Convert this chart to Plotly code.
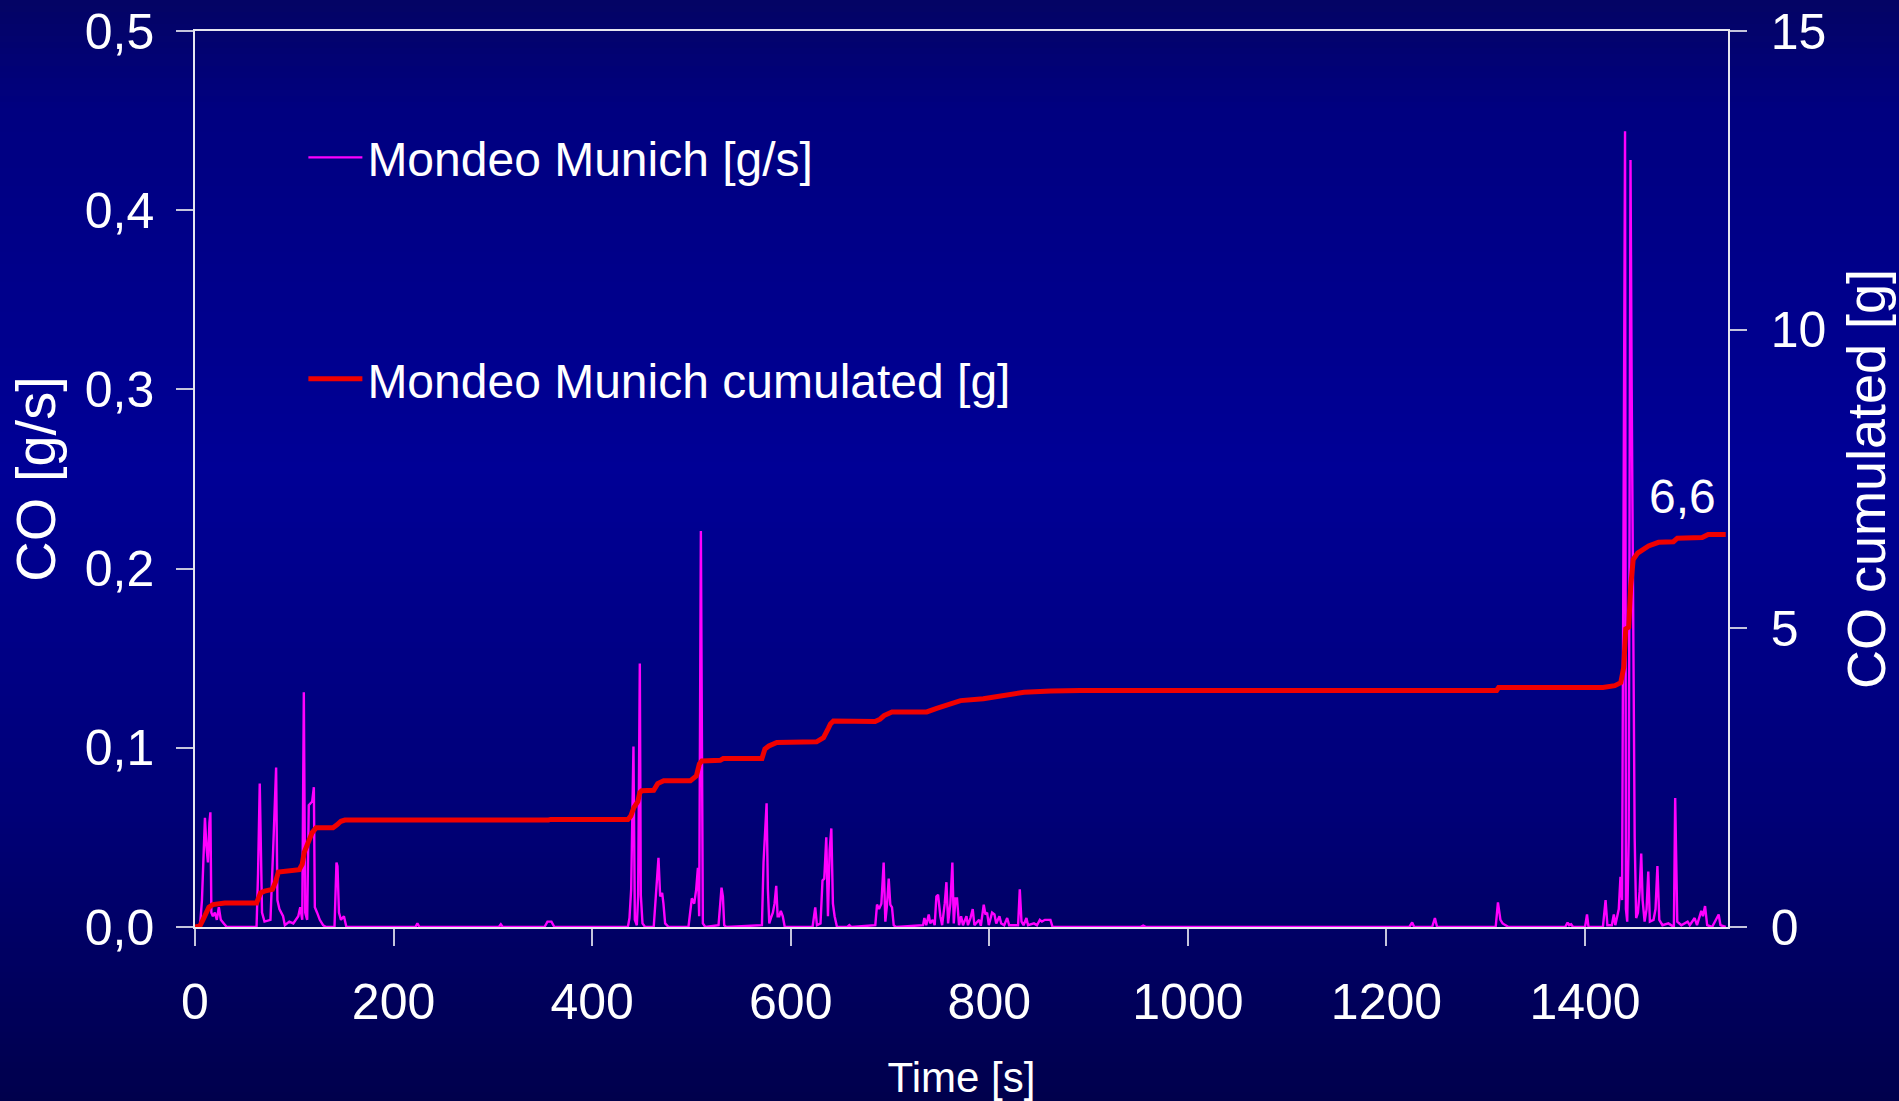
import plotly.graph_objects as go

# ---------------- data ----------------
time_rate = [0, 5, 7, 9, 10, 11.5, 13, 14.5, 15.5, 16.5, 18, 20, 22, 24, 26, 29, 32,
             62, 63.5, 65.2, 66.5, 67.5, 70, 76, 78.7, 80.5, 81.7, 83, 85, 88.7, 90.5, 95, 99,
             104, 106, 108, 109.6, 111, 113, 114.6, 116, 118, 119.7, 120.7, 123, 125.7, 129, 132,
             140.5, 142.5, 143.5, 145, 147, 150, 152.5,
             222, 224, 226, 306, 308, 310, 352, 355, 359, 362,
             436, 437.6, 439.3, 441.6, 443, 445, 446.3, 448, 449, 450.7, 453.4,
             462, 465, 466.8, 468.5, 470.5, 471.8, 473.5, 477,
             497, 500.4, 502.8, 504.8, 506.5, 507.8, 509.5, 511.5, 514,
             527.3, 529, 530.3, 531.7, 533, 535,
             571, 572.6, 575.7, 577, 578.4, 580, 582, 583.7, 585.4, 586.8, 588.4, 590, 592, 594,
             622, 624.7, 626.4, 630, 632, 633.8, 635.8, 637.5, 639.2, 640.9, 642.5, 644.2, 646.6,
             657, 659, 661,
             685.2, 686.9, 688.9, 691.3, 693.6, 695.3, 697, 698.7, 700.3, 702, 703.7, 706,
             733.3, 734.6, 736.5, 739, 740.5, 743, 745, 746.7, 748.4, 750.7, 752.5, 755.1, 756.8,
             758.5, 760.8, 762.8, 764.2, 765.9, 767.5, 769.5, 771.6, 773.5, 777, 778.5, 781, 783.3,
             785, 789.7, 791.5, 794.4, 796.1, 797.8, 799.5, 802.8, 805.2, 807, 810.2, 812, 815,
             818, 820, 829, 830.7, 832.4, 834.5, 837.4, 839, 845, 848, 850.9, 853, 856, 859,
             861.6, 863.7,
             952, 955, 958,
             1223, 1225.9, 1228, 1246, 1248.8, 1251,
             1310, 1312.3, 1314.8, 1317, 1320, 1323,
             1380, 1382.4, 1384, 1386, 1388, 1400, 1402, 1403.5,
             1418, 1420.7, 1422.5, 1427, 1429, 1430.5, 1434, 1435.7, 1437.3, 1439, 1440.3, 1441.2,
             1442.5, 1444, 1445.8, 1447, 1448.7, 1450, 1451.5, 1453.3, 1455, 1456.6, 1458, 1460,
             1462, 1463.7, 1465.3, 1469, 1471, 1472.9, 1474.8, 1478, 1484, 1489.5, 1490.8, 1492.9,
             1497, 1503.3, 1505.5, 1510.4, 1512.8, 1517.1, 1518.8, 1520.9, 1523, 1528, 1534.6,
             1536.4, 1541.7]
co_rate = [0, 0, 0.015, 0.055, 0.061, 0.045, 0.036, 0.058, 0.064, 0.008, 0.006, 0.008, 0.004, 0.011, 0.004, 0.002, 0,
           0, 0.03, 0.080, 0.03, 0.008, 0.003, 0.004, 0.043, 0.075, 0.089, 0.015, 0.010, 0.006, 0.001, 0.003, 0.002,
           0.006, 0.011, 0.004, 0.131, 0.008, 0.004, 0.068, 0.069, 0.070, 0.078, 0.011, 0.008, 0.004, 0.001, 0,
           0, 0.036, 0.034, 0.008, 0.004, 0.006, 0,
           0, 0.002, 0, 0, 0.0015, 0, 0, 0.003, 0.003, 0,
           0, 0.005, 0.021, 0.1007, 0.004, 0.001, 0.017, 0.147, 0.018, 0.002, 0,
           0, 0.025, 0.0386, 0.017, 0.019, 0.013, 0.002, 0,
           0, 0.016, 0.013, 0.021, 0.033, 0.006, 0.221, 0.002, 0,
           0.001, 0.013, 0.022, 0.017, 0.001, 0,
           0.001, 0.036, 0.069, 0.021, 0.002, 0.005, 0.008, 0.013, 0.023, 0.006, 0.006, 0.009, 0.006, 0,
           0, 0.011, 0.001, 0.002, 0.026, 0.027, 0.050, 0.006, 0.043, 0.055, 0.013, 0.006, 0,
           0, 0.001, 0,
           0.001, 0.0125, 0.010, 0.013, 0.036, 0.003, 0.0125, 0.027, 0.0125, 0.011, 0.001, 0,
           0.001, 0.005, 0.001, 0.007, 0.002, 0.004, 0.001, 0.017, 0.018, 0.006, 0.001, 0.013, 0.025,
           0.002, 0.013, 0.036, 0.002, 0.016, 0.016, 0.001, 0.006, 0.001, 0.006, 0.001, 0.005, 0.010,
           0.001, 0.004, 0.0007, 0.0125, 0.007, 0.008, 0.001, 0.008, 0.007, 0.002, 0.006, 0.002, 0.001,
           0.005, 0.001, 0.001, 0.021, 0.003, 0.001, 0.005, 0.001, 0.002, 0.001, 0.004, 0.003, 0.004, 0.004,
           0.004, 0,
           0, 0.0008, 0,
           0, 0.0025, 0, 0, 0.005, 0,
           0, 0.0137, 0.004, 0.002, 0.001, 0,
           0, 0.0025, 0.001, 0.0015, 0, 0, 0.007, 0,
           0, 0.015, 0.001, 0.001, 0.007, 0.001, 0.01, 0.028, 0.015, 0.25, 0.444, 0.01,
           0.003, 0.05, 0.428, 0.30, 0.170, 0.05, 0.005, 0.008, 0.02, 0.041, 0.015, 0.003,
           0.01, 0.031, 0.003, 0.004, 0.01, 0.034, 0.004, 0.001, 0.002, 0, 0.072, 0.003,
           0.001, 0.003, 0.001, 0.005, 0.001, 0.009, 0.006, 0.0117, 0.001, 0, 0.007,
           0.001, 0]

time_cum = [0, 5, 8, 11, 14, 18, 30, 62, 64, 66, 70, 78, 81, 84, 105, 108, 110, 114, 118, 122,
            139, 143, 147, 151, 280, 282, 303, 305, 356, 358, 436, 439, 442, 446, 448, 450, 462,
            466, 468, 472, 499, 505, 508, 510.5, 529, 532, 571, 574, 578, 586, 626, 633, 638, 640,
            643, 685, 690, 694, 702, 737, 747, 761, 771, 794, 811, 828, 835, 862, 892, 1311, 1313,
            1418, 1430, 1436, 1439, 1441, 1444, 1446, 1448.5, 1453, 1464, 1474, 1489, 1493, 1518,
            1524, 1541.7]
co_cum = [0, 0.02, 0.12, 0.25, 0.33, 0.375, 0.40, 0.40, 0.47, 0.57, 0.60, 0.63, 0.75, 0.92, 0.96,
          1.05, 1.25, 1.40, 1.58, 1.66, 1.66, 1.71, 1.77, 1.79, 1.79, 1.77, 1.77, 1.79, 1.79, 1.80,
          1.80, 1.86, 2.00, 2.10, 2.25, 2.28, 2.29, 2.40, 2.42, 2.45, 2.45, 2.53, 2.73, 2.78, 2.79,
          2.82, 2.82, 2.98, 3.03, 3.09, 3.10, 3.17, 3.33, 3.40, 3.45, 3.44, 3.48, 3.54, 3.60, 3.60,
          3.66, 3.73, 3.79, 3.82, 3.87, 3.90, 3.93, 3.95, 3.96, 3.96, 4.01, 4.01, 4.04, 4.09, 4.35,
          4.99, 5.02, 5.70, 6.15, 6.26, 6.38, 6.44, 6.45, 6.51, 6.52, 6.57, 6.57]

x_tick_vals = [0, 200, 400, 600, 800, 1000, 1200, 1400]
y_tick_vals = [0, 0.1, 0.2, 0.3, 0.4, 0.5]
y2_tick_vals = [0, 5, 10, 15]

# ---------------- layout constants ----------------
W, H = 1899, 1101
ML, MR, MT, MB = 195, 171, 31, 174
PW, PH = W - ML - MR, H - MT - MB
FONT = "Liberation Sans, Arial, sans-serif"
AX = "#e6e6f0"
TK = "#c4c4dc"

fig = go.Figure()
fig.add_trace(go.Scatter(
    x=time_cum, y=co_cum, yaxis="y2", mode="lines",
    name="Mondeo Munich cumulated [g]",
    line=dict(color="#f00000", width=5),
    legendgroup="cum", legendrank=2))
fig.add_trace(go.Scatter(
    x=time_rate, y=co_rate, mode="lines",
    name="Mondeo Munich [g/s]",
    line=dict(color="#ff00ff", width=2.4),
    legendgroup="rate", legendrank=1))

# background gradient bands (decoration)
stops = [(0, (4, 4, 100)), (110, (0, 0, 128)), (470, (0, 0, 150)),
         (820, (0, 0, 118)), (1101, (0, 0, 76))]


def bg_col(py):
    for (p0, c0), (p1, c1) in zip(stops[:-1], stops[1:]):
        if p0 <= py <= p1:
            f = (py - p0) / (p1 - p0)
            return "rgb(%d,%d,%d)" % tuple(round(a + (b - a) * f) for a, b in zip(c0, c1))
    return "rgb(0,0,76)"


shapes = []
band = 6
for py in range(0, H, band):
    shapes.append(dict(
        type="rect", xref="paper", yref="paper", layer="below",
        x0=-ML / PW - 0.02, x1=1 + MR / PW + 0.02,
        y0=(H - MB - (py + band + 1)) / PH, y1=(H - MB - py) / PH,
        fillcolor=bg_col(py + band / 2), line=dict(width=0)))

fig.update_layout(
    width=W, height=H,
    margin=dict(l=ML, r=MR, t=MT, b=MB, pad=0, autoexpand=False),
    paper_bgcolor="rgb(0,0,120)",
    plot_bgcolor="rgba(0,0,0,0)",
    separators=",.",
    font=dict(family=FONT, color="white", size=48),
    shapes=shapes,
    showlegend=True,
    legend=dict(x=0.0707, y=0.901, xanchor="left", yanchor="top",
                bgcolor="rgba(0,0,0,0)", font=dict(size=48, color="white", family=FONT),
                traceorder="grouped", tracegroupgap=156, itemwidth=54),
    xaxis=dict(range=[0, 1544], tickvals=x_tick_vals, ticks="outside", ticklen=17,
               tickwidth=1.5, tickcolor=TK, showline=True, linecolor=AX, linewidth=1.5,
               mirror=True, showgrid=False, zeroline=False, automargin=False,
               tickfont=dict(size=50, color="white", family=FONT), ticklabelstandoff=13,
               title=dict(text="Time [s]", font=dict(size=42, color="white", family=FONT),
                          standoff=34)),
    yaxis=dict(range=[0, 0.5], tickvals=y_tick_vals, tickformat=".1f", ticks="outside",
               ticklen=17, tickwidth=1.5, tickcolor=TK, showline=True, linecolor=AX,
               linewidth=1.5, showgrid=False, zeroline=False, automargin=False,
               tickfont=dict(size=50, color="white", family=FONT), ticklabelstandoff=12,
               title=dict(text="CO [g/s]", font=dict(size=56, color="white", family=FONT),
                          standoff=11)),
    yaxis2=dict(range=[0, 15], tickvals=y2_tick_vals, overlaying="y", side="right",
                ticks="outside", ticklen=17, tickwidth=1.5, tickcolor=TK, showline=True,
                linecolor=AX, linewidth=1.5, showgrid=False, zeroline=False, automargin=False,
                tickfont=dict(size=50, color="white", family=FONT), ticklabelstandoff=14,
                title=dict(text="CO cumulated [g]", font=dict(size=54, color="white", family=FONT),
                           standoff=22)),
)

fig.add_annotation(
    x=time_cum[-1], y=co_cum[-1], xref="x", yref="y2",
    text=("%.1f" % co_cum[-1]).replace(".", ","), showarrow=False,
    xanchor="right", yanchor="bottom", xshift=-8, yshift=10,
    font=dict(size=48, color="white", family=FONT))

fig.write_html("out.html")
